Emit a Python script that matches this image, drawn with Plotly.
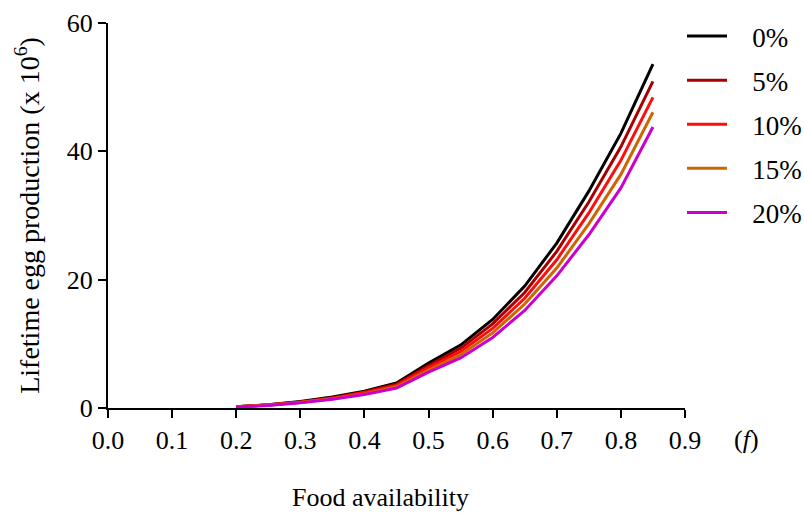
import plotly.graph_objects as go

food = [0.20, 0.25, 0.30, 0.35, 0.40, 0.45, 0.50, 0.55, 0.60, 0.65, 0.70, 0.75, 0.80, 0.85]

eggs_0 = [0.2, 0.5, 1.0, 1.7, 2.6, 3.9, 7.0, 9.8, 13.8, 19.0, 25.7, 33.8, 42.8, 53.6]
eggs_5 = [0.2, 0.5, 0.95, 1.6, 2.5, 3.7, 6.6, 9.3, 13.1, 18.0, 24.4, 32.1, 40.7, 50.9]
eggs_10 = [0.2, 0.45, 0.9, 1.5, 2.4, 3.5, 6.3, 8.8, 12.4, 17.1, 23.1, 30.4, 38.6, 48.4]
eggs_15 = [0.2, 0.45, 0.85, 1.45, 2.2, 3.3, 5.9, 8.3, 11.7, 16.2, 21.8, 28.7, 36.4, 46.1]
eggs_20 = [0.15, 0.4, 0.8, 1.35, 2.1, 3.1, 5.6, 7.8, 11.0, 15.2, 20.6, 27.0, 34.3, 43.8]

series_names = ["0%", "5%", "10%", "15%", "20%"]
series_values = [eggs_0, eggs_5, eggs_10, eggs_15, eggs_20]
series_colors = ["#000000", "#a80000", "#ff0d0d", "#cc6600", "#cc00cc"]

x_ticks = [0.0, 0.1, 0.2, 0.3, 0.4, 0.5, 0.6, 0.7, 0.8, 0.9]
x_ticklabels = ["0.0", "0.1", "0.2", "0.3", "0.4", "0.5", "0.6", "0.7", "0.8", "0.9"]
y_ticks = [0, 20, 40, 60]

FONT = "Liberation Serif"
PAD = "\u2002 "

fig = go.Figure()
for i, (name, vals, col) in enumerate(zip(series_names, series_values, series_colors)):
    fig.add_trace(go.Scatter(
        x=food, y=vals, mode="lines", name=PAD + name,
        line=dict(color=col, width=3),
        legendgroup=f"g{i}",
    ))

fig.update_layout(
    width=804, height=519,
    margin=dict(l=108, r=119, t=23, b=111, autoexpand=False),
    paper_bgcolor="white", plot_bgcolor="white",
    font=dict(family=FONT, size=26, color="black"),
    showlegend=True,
    legend=dict(
        x=1.0 - 3 / 577, y=1.0 + 11 / 384.5, xanchor="left", yanchor="top",
        font=dict(family=FONT, size=27, color="black"),
        tracegroupgap=6,
        bgcolor="rgba(0,0,0,0)",
        itemwidth=40,
    ),
    xaxis=dict(
        range=[0, 0.9], tickvals=x_ticks, ticktext=x_ticklabels,
        showgrid=False, zeroline=False, automargin=False,
        showline=True, linecolor="black", linewidth=2,
        ticks="outside", ticklen=8, tickwidth=2, tickcolor="black",
        tickfont=dict(family=FONT, size=26),
    ),
    yaxis=dict(
        range=[0, 60], tickvals=y_ticks,
        showgrid=False, zeroline=False, automargin=False,
        showline=True, linecolor="black", linewidth=2,
        ticks="outside", ticklen=8, tickwidth=2, tickcolor="black",
        tickfont=dict(family=FONT, size=26),
        title=dict(text="Lifetime egg production (x 10<sup>6</sup>)",
                   font=dict(family=FONT, size=28), standoff=19),
    ),
    annotations=[
        dict(text="Food availability", xref="paper", yref="paper",
             x=(380 - 108) / 577, y=-(497 - 407.5) / 384.5,
             xanchor="center", yanchor="middle", showarrow=False,
             font=dict(family=FONT, size=26)),
        dict(text="(<i>f</i>)", xref="paper", yref="paper",
             x=(746 - 108) / 577, y=-(439 - 407.5) / 384.5,
             xanchor="center", yanchor="middle", showarrow=False,
             font=dict(family=FONT, size=26)),
    ],
)

fig.write_html("out.html", config={"displayModeBar": False},
               post_script="document.body.style.margin='0px';")
